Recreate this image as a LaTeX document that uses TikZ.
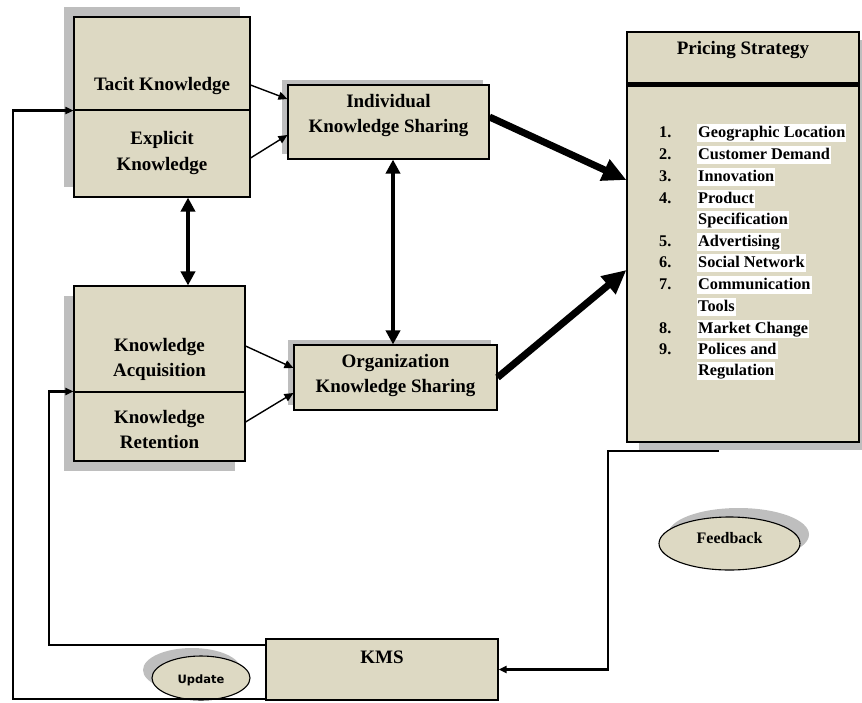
\documentclass[tikz,border=0pt]{standalone}
\usepackage{fontspec}
\setmainfont{Liberation Serif}
\newfontfamily\updfont{DejaVu Sans}
\usetikzlibrary{arrows.meta,positioning,calc,shapes.geometric,shadows}
\definecolor{boxtan}{HTML}{DDD9C3}
\definecolor{shadowgray}{HTML}{BEBEBE}

\begin{document}
\begin{tikzpicture}[x=1pt,y=-1pt,>=Triangle,
  box/.style={draw,fill=boxtan,line width=1.1pt,inner sep=0pt},
  shadowed/.style 2 args={drop shadow={shadow xshift=#1pt,shadow yshift=#2pt,fill=shadowgray,opacity=1}},
  txt/.style={font=\fontsize{19}{25}\selectfont\bfseries,align=center,inner sep=0pt},
  lst/.style={font=\fontsize{16.3}{20}\selectfont\bfseries,anchor=west,inner xsep=1pt,inner ysep=1pt,text height=12pt,text depth=4pt},
  thin/.style={->,line width=1.4pt,>={Triangle[length=9pt,width=8pt]}},
  dbl/.style={<->,line width=4pt,>={Triangle[length=14pt,width=14pt]}},
  big/.style={->,line width=7pt,>={Triangle[length=24pt,width=22pt]}},
  loopline/.style={->,line width=2.2pt,>={Triangle[length=8pt,width=7pt]}}]
\useasboundingbox (0,0) rectangle (862,702);
% boxes
\node[box,shadowed={-10}{10},minimum width=176pt,minimum height=87pt] (explicit) at (162,153.5) {};
\node[box,shadowed={-10}{10},minimum width=176pt,minimum height=93pt] (tacit) at (162,63.5) {};
\node[box,shadowed={-6}{5},minimum width=201pt,minimum height=74pt] (indiv) at (388.5,122) {};
\node[box,shadowed={-10}{-10},minimum width=171pt,minimum height=106pt] (acq) at (159.5,339) {};
\node[box,shadowed={-10}{-10},minimum width=171pt,minimum height=69pt] (ret) at (159.5,426.5) {};
\node[box,shadowed={-6}{5},minimum width=203pt,minimum height=65pt] (org) at (395.5,377.5) {};
\node[box,shadowed={12}{-8},minimum width=232pt,minimum height=410pt] (pricing) at (743,237) {};
\node[box,minimum width=232pt,minimum height=61pt] (kms) at (382,669.5) {};
\node[box,ellipse,shadowed={9}{9},minimum width=141pt,minimum height=53pt] (feedback) at (729.5,543.5) {};
\node[box,ellipse,shadowed={-9}{8},minimum width=98pt,minimum height=44pt] (update) at (201,678) {};
% texts
\node[txt] (tacit-l) at (162,86) {Tacit Knowledge};
\node[txt] (explicit-l) at (162,153) {Explicit\\Knowledge};
\node[txt] (indiv-l) at (388.5,115.5) {Individual\\Knowledge Sharing};
\node[txt] (acq-l) at (159.5,359.5) {Knowledge\\Acquisition};
\node[txt] (ret-l) at (159.5,429) {Knowledge\\Retention};
\node[txt] (org-l) at (395.5,375.5) {Organization\\Knowledge Sharing};
\node[txt] (pricing-l) at (743,50) {Pricing Strategy};
\node[txt] (kms-l) at (382,657) {KMS};
\node[txt,font=\fontsize{16}{20}\selectfont\bfseries] (feedback-l) at (729.5,538) {Feedback};
\node[inner sep=0pt,font=\updfont\fontsize{11.5}{14}\selectfont\bfseries] (update-l) at (201,680) {Update};
\draw[line width=5pt] ($(pricing.north west)+(0,53)$) -- ($(pricing.north east)+(0,53)$);
% list
\foreach \y/\n/\t [count=\i] in {133/1./Geographic Location,155/2./Customer Demand,177/3./Innovation,
  199/4./Product,220//Specification,242/5./Advertising,263/6./Social Network,285/7./Communication,
  307//Tools,329/8./Market Change,350/9./Polices and,371//Regulation}{
  \node[lst,inner xsep=0pt] (num-\i) at (659,\y) {\n};
  \node[lst,fill=white] (item-\i) at (697,\y) {\t};
}
% connectors
\draw[thin] ($(tacit.east)+(0,21.5)$) -- ($(indiv.west)+(0,-23)$);
\draw[thin] ($(explicit.east)+(0,4.5)$) -- ($(indiv.west)+(0,13)$);
\draw[thin] ($(acq.east)+(0,7)$) -- ($(org.west)+(0,-9.5)$);
\draw[thin] ($(ret.east)+(0,-4.5)$) -- ($(org.west)+(0,15.5)$);
\coordinate (link) at (188,0);
\coordinate (share) at (393,0);
\draw[dbl] (explicit.south -| link) -- (acq.north -| link);
\draw[dbl] (indiv.south -| share) -- (org.north -| share);
\draw[big] ($(indiv.east)+(0,-5)$) -- ($(pricing.west)+(0,-57)$);
\draw[big] (org.east) -- ($(pricing.west)+(0,33)$);
% loops
\coordinate (outer) at (13,699);
\coordinate (inner) at (49,645);
\coordinate (fbstart) at (719,451);
\coordinate (fbturn) at (608,451);
\draw[loopline] (kms.south west |- outer) -- (outer) |- (tacit.south west);
\draw[loopline] (kms.north west |- inner) -- (inner) |- (ret.north west);
\draw[loopline] (fbstart) -- (fbturn) |- (kms.east);
\end{tikzpicture}
\end{document}
